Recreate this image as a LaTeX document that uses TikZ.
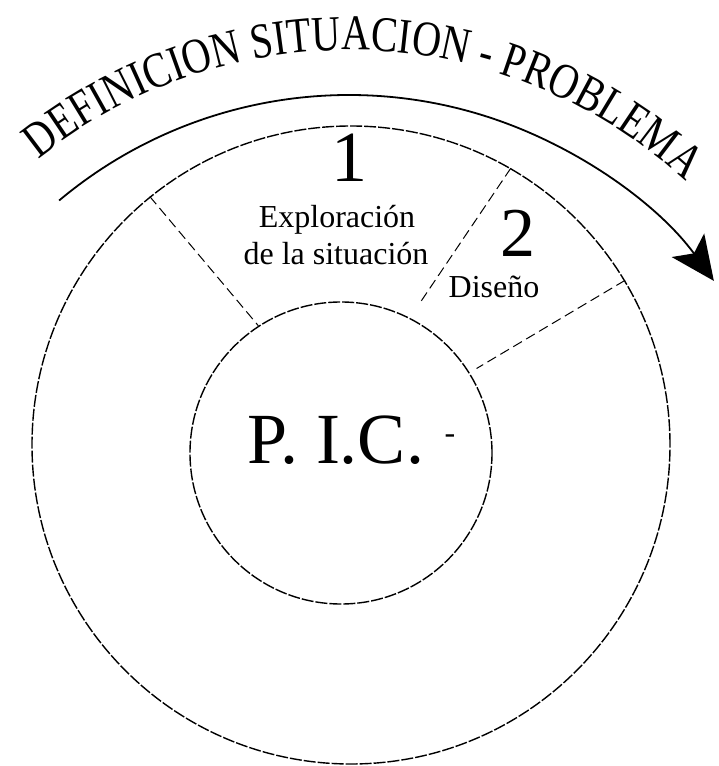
\documentclass[tikz,border=0pt]{standalone}
\usepackage{fontspec}
\setmainfont{Liberation Serif}
\newfontfamily\narrowserif[FakeStretch=0.80]{Liberation Serif}
\usetikzlibrary{arrows.meta,calc,decorations.text}

\begin{document}
\begin{tikzpicture}[x=1pt,y=1pt,
                    ring/.style={draw,circle,inner sep=0pt,line width=1.4pt,dash pattern=on 12pt off 2pt},
                    divider/.style={line width=1pt,dash pattern=on 10pt off 5pt},
                    bignum/.style={font=\fontsize{72}{72}\selectfont,anchor=base},
                    sectortext/.style={font=\fontsize{32}{32}\selectfont,anchor=base}]
  \useasboundingbox (-351,-321) rectangle (368,445);

  \node[ring,minimum size=638pt] (outer) at (0,0) {};
  \node[ring,minimum size=302pt] (inner) at (-10,-8) {};

  \draw[divider] (outer.129) -- (inner.123);
  \draw[divider,shorten >=17pt] (outer.60) -- (inner.63);
  \draw[divider,shorten >=8pt] (outer.31) -- (inner.32);

  \node[bignum] (one) at (-1,263) {1};
  \node[sectortext] (explo) at (-14,217) {Exploración};
  \node[sectortext] (desit) at (-15,180) {de la situación};
  \node[bignum,font=\fontsize{70}{70}\selectfont] (two) at (167,188) {2};
  \node[sectortext] (dis) at (143,147) {Diseño};
  \node[bignum] (pic) at (-15,-18) {P. I.C.};
  \node[sectortext,anchor=center] (stray) at (99,6) {-};

  \coordinate (arcc) at (-2,-101);
  \draw[line width=1.8pt,-{Stealth[length=44pt,width=40pt,inset=10pt]}]
        ($(arcc)+(130:451pt)$) arc[start angle=130,end angle=36,radius=451pt];
  \path[decorate,decoration={text along path,text align=center,
        text={|\narrowserif\fontsize{50}{50}\selectfont|DEFINICION SITUACION - PROBLEMA}}]
        ($(arcc)+(136:496pt)$) arc[start angle=136,end angle=40,radius=496pt];
\end{tikzpicture}
\end{document}
